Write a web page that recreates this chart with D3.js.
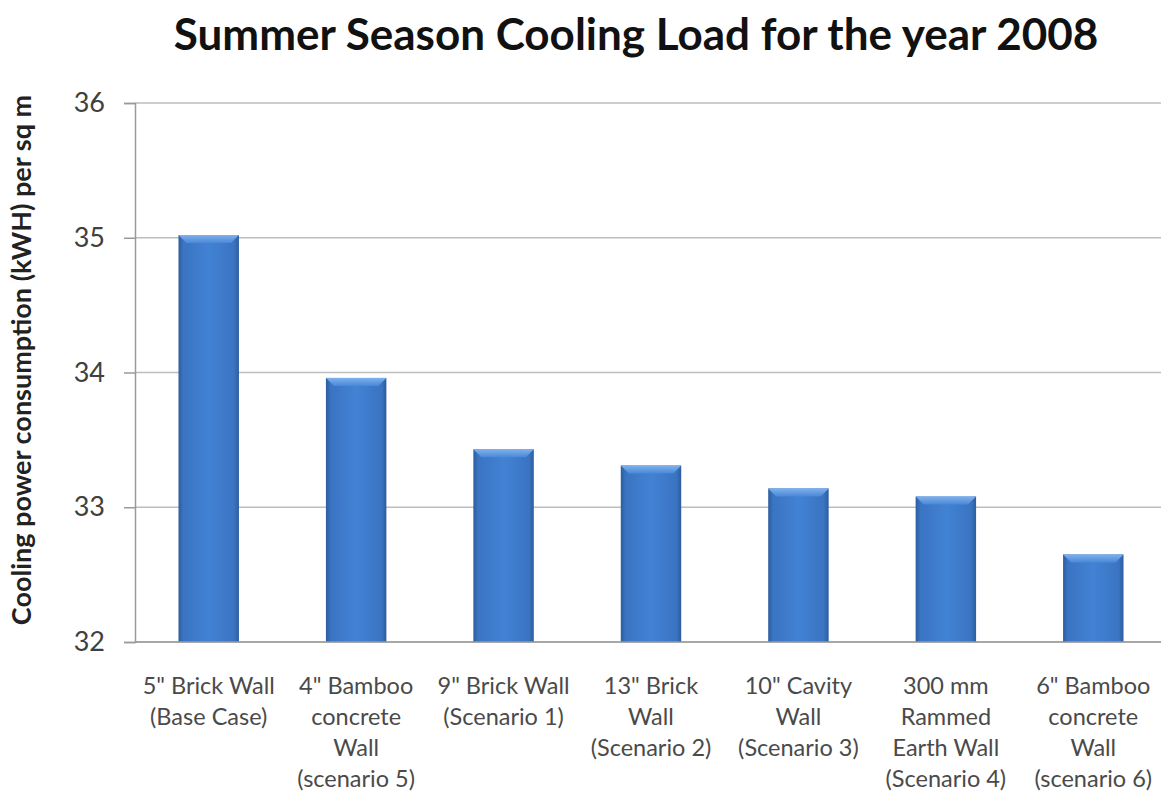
<!DOCTYPE html>
<html><head><meta charset="utf-8">
<script src="https://cdn.jsdelivr.net/npm/d3@7"></script>
<style>body{margin:0;background:#fff;} svg{display:block;}</style>
</head><body>
<svg id="chart" width="1161" height="796"></svg>
<script>
const categories = [
  ["5\" Brick Wall","(Base Case)"],
  ["4\" Bamboo","concrete","Wall","(scenario 5)"],
  ["9\" Brick Wall","(Scenario 1)"],
  ["13\" Brick","Wall","(Scenario 2)"],
  ["10\" Cavity","Wall","(Scenario 3)"],
  ["300 mm","Rammed","Earth Wall","(Scenario 4)"],
  ["6\" Bamboo","concrete","Wall","(scenario 6)"]
];
const values = [35.02, 33.96, 33.43, 33.31, 33.14, 33.08, 32.65];
const yTicks = [32, 33, 34, 35, 36];
const title = "Summer Season Cooling Load for the year 2008";
const yLabel = "Cooling power consumption (kWH) per sq m";

(function(){
const svg = d3.select("#chart");
const font = "Lato, 'Open Sans', sans-serif";
const pLeft = 135, pRight = 1167, pTop = 103, pBottom = 642;

const x = d3.scaleBand().domain(d3.range(categories.length)).range([pLeft, pRight]).paddingInner(0.59).paddingOuter(0.295);
const y = d3.scaleLinear().domain([32, 36]).range([pBottom, pTop]);

const defs = svg.append("defs");
const g1 = defs.append("linearGradient").attr("id","barGrad").attr("x1","0").attr("x2","1").attr("y1","0").attr("y2","0");
g1.append("stop").attr("offset","0").attr("stop-color","#2c5d9e");
g1.append("stop").attr("offset","0.08").attr("stop-color","#3a74c2");
g1.append("stop").attr("offset","0.5").attr("stop-color","#4282d4");
g1.append("stop").attr("offset","0.92").attr("stop-color","#3a74c2");
g1.append("stop").attr("offset","1").attr("stop-color","#2c5d9e");
const g2 = defs.append("linearGradient").attr("id","topGrad").attr("x1","0").attr("x2","0").attr("y1","0").attr("y2","1");
g2.append("stop").attr("offset","0").attr("stop-color","#7fb1ee");
g2.append("stop").attr("offset","1").attr("stop-color","#4a88d6");

// gridlines
svg.append("g").selectAll("line").data(yTicks).join("line")
  .attr("x1", pLeft).attr("x2", 1161).attr("y1", d=>y(d)).attr("y2", d=>y(d))
  .attr("stroke", "#bdbdbd").attr("stroke-width", 1.5);

// y axis
const yAxis = d3.axisLeft(y).tickValues(yTicks).tickSize(11).tickPadding(19).tickFormat(d3.format("d"));
const ga = svg.append("g").attr("transform", `translate(${pLeft},0)`).call(yAxis);
ga.select(".domain").attr("stroke", "#9a9a9a").attr("stroke-width", 1.5);
ga.selectAll(".tick line").attr("stroke", "#9a9a9a").attr("stroke-width", 1.5);
ga.selectAll(".tick text").attr("font-family", font).attr("font-size", 27).attr("fill", "#404040");

// bars
const bars = svg.append("g").selectAll("g").data(values).join("g");
bars.append("rect")
  .attr("x", (d,i)=>x(i)).attr("width", x.bandwidth())
  .attr("y", d=>y(d)).attr("height", d=>y(32)-y(d))
  .attr("fill", "url(#barGrad)");
bars.append("path")
  .attr("d", (d,i)=>{
    const x0 = x(i), x1 = x(i)+x.bandwidth(), t = y(d), b = 8;
    return `M${x0},${t}L${x1},${t}L${x1-b},${t+b}L${x0+b},${t+b}Z`;
  })
  .attr("fill", "url(#topGrad)");

svg.append("line").attr("x1", pLeft).attr("x2", 1161).attr("y1", y(32)).attr("y2", y(32))
  .attr("stroke", "#9a9a9a").attr("stroke-width", 1.5);

// category labels
const cl = svg.append("g").selectAll("text").data(categories).join("text")
  .attr("x", (d,i)=>x(i)+x.bandwidth()/2).attr("y", 694)
  .attr("text-anchor","middle").attr("font-family", font).attr("font-size", 23.5).attr("fill", "#4a4a4a");
cl.selectAll("tspan").data(d=>d).join("tspan")
  .attr("x", function(){ return d3.select(this.parentNode).attr("x"); })
  .attr("dy", (d,i)=> i===0 ? 0 : 31).text(d=>d);

svg.append("text").attr("x", 636).attr("y", 50).attr("text-anchor","middle")
  .attr("font-family", font).attr("font-weight","bold").attr("font-size", 44).attr("fill","#111").text(title);

svg.append("text").attr("transform", "translate(31,360) rotate(-90)").attr("text-anchor","middle")
  .attr("font-family", font).attr("font-weight","bold").attr("font-size", 27).attr("fill","#222").text(yLabel);
})();
</script>
</body></html>
